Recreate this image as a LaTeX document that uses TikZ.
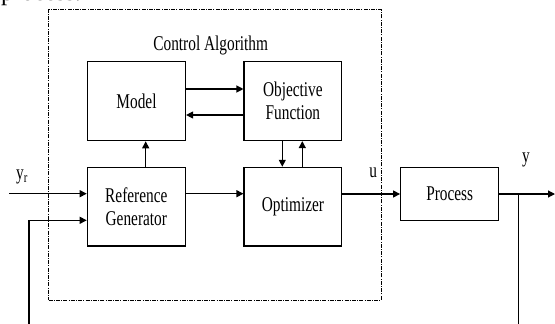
\documentclass[tikz,border=0pt]{standalone}
\usepackage{fontspec}
\setmainfont{Liberation Serif}[FakeStretch=0.73]
\newfontfamily\bodyfont{Liberation Serif}
\usetikzlibrary{arrows.meta,calc}
\begin{document}
\begin{tikzpicture}[x=1pt,y=-1pt,
  every node/.style={font=\fontsize{21}{22.7}\selectfont},
  blk/.style={draw,line width=1.2pt,inner sep=0pt,align=center,minimum width=98pt},
  lbl/.style={inner sep=0pt},
  arr/.style={line width=1.2pt,-{Triangle[length=7pt,width=7pt]}},
  ln/.style={line width=1.2pt},
  dashbox/.style={draw,line width=0.9pt,dash pattern=on 4pt off 1.2pt on 1pt off 1.2pt,inner sep=0pt}
]
\useasboundingbox (0,0) rectangle (555,324);
% cut-off body text line at the top
\node[lbl,anchor=base west,font=\bodyfont\fontsize{24.6}{26}\selectfont] (bodytxt) at (1,0.8) {process.};
% control algorithm frame
\node[dashbox,minimum width=332.5pt,minimum height=290.5pt] (alg) at (214.75,154.75) {};
\node[lbl] (algtitle) at (210.7,45) {Control Algorithm};
% blocks
\node[blk,minimum height=79pt] (model) at (136.5,101.2) {Model};
\node[blk,minimum height=79pt,minimum width=97.7pt] (obj) at (292.9,101) {Objective\\Function};
\node[blk,minimum height=78.7pt] (refgen) at (136.3,206.7) {Reference\\Generator};
\node[blk,minimum height=78.7pt,minimum width=97.7pt] (opt) at (292.9,206.7) {Optimizer};
\node[blk,minimum height=53.4pt] (proc) at (449.7,194) {Process};
% labels
\node[lbl] (yrlbl) at (22,177) {y\textsubscript{r}};
\node[lbl] (ulbl) at (373.3,172.7) {u};
\node[lbl] (ylbl) at (526,160) {y};
% free ends
\coordinate (yrin) at (9,193.7);
\coordinate (fbL) at (29,324);
\coordinate (fbR) at (518.3,324);
\coordinate (branch) at (518.3,194);
\coordinate (yout) at (555,194);
% connectors
\draw[arr] ($(model.east)+(0,-12.2)$) -- ($(obj.west)+(0,-12)$);
\draw[arr] ($(obj.west)+(0,14)$) -- ($(model.east)+(0,13.8)$);
\draw[arr] ($(refgen.north)+(9.4,0)$) -- ($(model.south)+(9.2,0)$);
\draw[arr] ($(obj.south)+(-10.6,0)$) -- ($(opt.north)+(-10.6,0)$);
\draw[arr] ($(opt.north)+(9.4,0)$) -- ($(obj.south)+(9.4,0)$);
\draw[arr] (yrin) -- ($(refgen.west)+(0,-13)$);
\draw[arr] (fbL) |- ($(refgen.west)+(0,13.6)$);
\draw[arr] ($(refgen.east)+(0,-13)$) -- ($(opt.west)+(0,-13)$);
\draw[arr] (opt.east |- proc.west) -- (proc.west);
\draw[arr] (proc.east) -- (yout);
\draw[ln] (branch) -- (fbR);
\end{tikzpicture}
\end{document}
